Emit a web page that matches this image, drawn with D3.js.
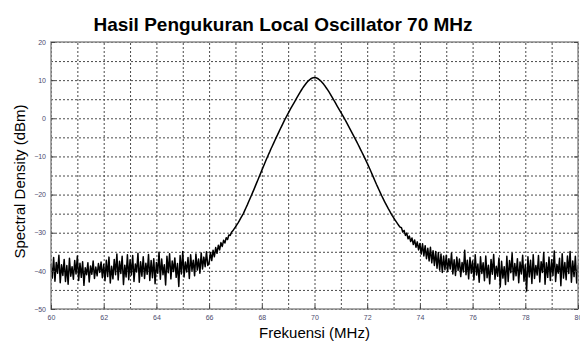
<!DOCTYPE html>
<html lang="en">
<head>
<meta charset="UTF-8">
<title>Hasil Pengukuran Local Oscillator 70 MHz</title>
<style>
  body { margin: 0; background: #fff; font-family: "Liberation Sans", Arial, sans-serif; }
  .axis .tick text { fill: #4b4b6e; font-size: 7px; }
  .axis .tick line { stroke: #444; }
  .axis .domain { display: none; }
  .grid .tick line { stroke: #4a4a4a; stroke-dasharray: 2,2; }
  .grid .domain { display: none; }
  .grid text { display: none; }
</style>
</head>
<body>
<svg id="chart" width="580" height="344"></svg>
<script src="https://d3js.org/d3.v7.min.js"></script>
<script>
// spectrum sampled every 0.05 MHz starting at 60 MHz
var freqStart = 60, freqStep = 0.05;

// noise floor 60.00 .. 65.95 MHz
var floorLow = [
  -38.2, -41.9, -36.5, -42.7, -37.8, -40.6, -35.9, -43.1, -38.4, -41.2,
  -37.0, -42.8, -38.6, -43.5, -36.7, -41.4, -38.9, -42.2, -37.3, -40.8,
  -36.1, -42.5, -38.0, -41.7, -37.6, -43.8, -39.2, -41.0, -37.9, -42.9,
  -38.7, -40.9, -37.4, -42.0, -39.0, -41.3, -38.1, -40.4, -37.7, -41.8,
  -38.3, -42.6, -37.2, -41.5, -36.4, -43.2, -38.8, -42.1, -37.0, -41.0,
  -35.6, -42.4, -37.5, -40.7, -36.2, -43.6, -38.5, -41.6, -35.8, -42.3,
  -37.1, -41.1, -36.0, -42.8, -38.2, -40.3, -35.4, -43.0, -37.6, -41.4,
  -36.3, -42.0, -38.0, -40.9, -35.7, -42.5, -37.3, -41.8, -36.8, -43.4,
  -37.8, -40.6, -35.1, -42.2, -36.9, -41.0, -38.4, -43.7, -36.2, -40.5,
  -35.5, -42.1, -37.4, -40.2, -36.6, -41.7, -38.1, -44.1, -36.0, -40.8,
  -34.9, -41.6, -37.7, -40.3, -36.5, -42.0, -35.8, -39.9, -37.2, -41.3,
  -35.6, -39.8, -36.9, -40.6, -35.3, -39.5, -36.4, -38.9, -35.0, -38.6
];

// carrier 66.00 .. 74.95 MHz
var carrier = [
  -37.9, -35.2, -37.3, -34.6, -36.3, -33.9, -35.4, -33.3, -34.5, -32.6,
  -33.6, -32.0, -32.7, -31.3, -31.8, -30.6, -30.7, -29.9, -29.5, -29.0,
  -28.5, -27.95, -27.4, -26.8, -26.2, -25.6, -25.0, -24.2, -23.45, -22.7,
  -21.9, -21.1, -20.3, -19.5, -18.7, -17.85, -17.0, -16.2, -15.35, -14.5,
  -13.65, -12.8, -12.0, -11.15, -10.35, -9.55, -8.8, -8.0, -7.25, -6.5,
  -5.75, -5.0, -4.3, -3.55, -2.8, -2.1, -1.4, -0.7, 0.0, 0.65,
  1.3, 1.95, 2.6, 3.2, 3.8, 4.4, 5.0, 5.6, 6.2, 6.8,
  7.35, 7.9, 8.4, 8.85, 9.3, 9.7, 10.0, 10.3, 10.5, 10.65,
  10.7,
  10.65, 10.5, 10.3, 10.0, 9.7, 9.3, 8.9, 8.45, 7.95, 7.45,
  6.9, 6.35, 5.75, 5.15, 4.55, 3.95, 3.35, 2.75, 2.15, 1.55,
  0.95, 0.35, -0.25, -0.9, -1.55, -2.2, -2.85, -3.5, -4.15, -4.8,
  -5.45, -6.1, -6.8, -7.5, -8.2, -8.9, -9.6, -10.3, -11.05, -11.8,
  -12.55, -13.3, -14.1, -14.9, -15.7, -16.5, -17.3, -18.05, -18.8, -19.55,
  -20.3, -21.0, -21.7, -22.4, -23.05, -23.7, -24.3, -24.9, -25.5, -26.05,
  -26.6, -27.1, -27.6, -28.1, -28.55, -28.7, -29.8, -29.4, -30.7, -30.1,
  -31.6, -30.9, -32.3, -31.4, -33.1, -31.9, -33.8, -32.4, -34.5, -32.8,
  -35.6, -32.9, -36.1, -33.4, -36.8, -34.1, -37.4, -33.8, -37.9, -34.7,
  -38.6, -34.9, -39.3, -35.2, -39.8, -35.6, -40.4, -36.1, -39.7
];

// noise floor 75.00 .. 80.00 MHz
var floorHigh = [
  -35.9, -40.2, -36.8, -39.5, -35.3, -40.8, -37.1, -41.2, -36.4, -39.9,
  -36.9, -41.5, -37.8, -40.3, -34.6, -41.0, -37.2, -42.1, -36.5, -40.6,
  -37.4, -42.3, -35.8, -41.1, -38.2, -43.0, -36.3, -40.7, -37.9, -42.6,
  -36.1, -41.8, -38.5, -43.4, -37.0, -40.9, -35.7, -42.2, -38.8, -41.4,
  -36.6, -44.2, -37.5, -41.9, -38.9, -43.6, -36.2, -42.8, -37.3, -40.5,
  -35.4, -42.4, -38.1, -41.3, -36.8, -43.1, -37.7, -40.8, -35.9, -42.7,
  -38.4, -45.3, -36.3, -41.6, -37.2, -43.3, -35.8, -42.0, -38.6, -41.1,
  -36.0, -42.9, -37.6, -40.4, -35.2, -43.5, -37.9, -41.7, -36.4, -42.5,
  -37.1, -41.2, -34.8, -42.8, -38.3, -40.6, -36.7, -43.9, -35.5, -41.9,
  -37.8, -42.3, -36.1, -40.7, -34.9, -43.0, -37.4, -41.5, -36.2, -43.2,
  -38.5
];

var xTicks = [60, 62, 64, 66, 68, 70, 72, 74, 76, 78, 80];
var yTicks = [-50, -40, -30, -20, -10, 0, 10, 20];

var margin = {top: 42, right: 2, bottom: 35, left: 51},
    width = 580 - margin.left - margin.right,
    height = 344 - margin.top - margin.bottom;

var svg = d3.select("#chart");
var g = svg.append("g")
    .attr("transform", "translate(" + margin.left + "," + margin.top + ")");

var x = d3.scaleLinear().domain([60, 80]).range([0, width]);
var y = d3.scaleLinear().domain([-50, 20]).range([height, 0]);

// dotted grid, 1 MHz by 5 dBm
g.append("g").attr("class", "grid")
    .attr("transform", "translate(0," + height + ")")
    .call(d3.axisBottom(x).ticks(20).tickSize(-height).tickFormat(""));
g.append("g").attr("class", "grid")
    .call(d3.axisLeft(y).ticks(14).tickSize(-width).tickFormat(""));

// spectrum trace
var spectrum = floorLow.concat(carrier, floorHigh);
var line = d3.line()
    .x(function (d, i) { return x(freqStart + i * freqStep); })
    .y(function (d) { return y(d); });

g.append("path")
    .datum(spectrum)
    .attr("fill", "none")
    .attr("stroke", "#000")
    .attr("stroke-width", 1.5)
    .attr("stroke-linejoin", "round")
    .attr("d", line);

// frame
g.append("rect")
    .attr("width", width)
    .attr("height", height)
    .attr("fill", "none")
    .attr("stroke", "#8c8c8c")
    .attr("stroke-width", 1.5);

// axes with small inward ticks
g.append("g").attr("class", "axis")
    .attr("transform", "translate(0," + height + ")")
    .call(d3.axisBottom(x).tickValues(xTicks).tickSizeInner(-4).tickSizeOuter(0).tickPadding(6));
g.append("g").attr("class", "axis")
    .call(d3.axisLeft(y).tickValues(yTicks).tickSizeInner(-4).tickSizeOuter(0).tickPadding(5));
g.append("g").attr("class", "axis")
    .attr("transform", "translate(" + width + ",0)")
    .call(d3.axisRight(y).tickValues(yTicks).tickSizeInner(-4).tickSizeOuter(0).tickFormat(""));

// titles
svg.append("text")
    .attr("x", 283)
    .attr("y", 31)
    .attr("text-anchor", "middle")
    .style("font-size", "19px")
    .style("font-weight", "bold")
    .text("Hasil Pengukuran Local Oscillator 70 MHz");

svg.append("text")
    .attr("x", margin.left + x(70))
    .attr("y", 338)
    .attr("text-anchor", "middle")
    .style("font-size", "15px")
    .text("Frekuensi (MHz)");

svg.append("text")
    .attr("transform", "translate(25," + (margin.top + height / 2 + 6) + ") rotate(-90)")
    .attr("text-anchor", "middle")
    .style("font-size", "15px")
    .text("Spectral Density (dBm)");
</script>
</body>
</html>
